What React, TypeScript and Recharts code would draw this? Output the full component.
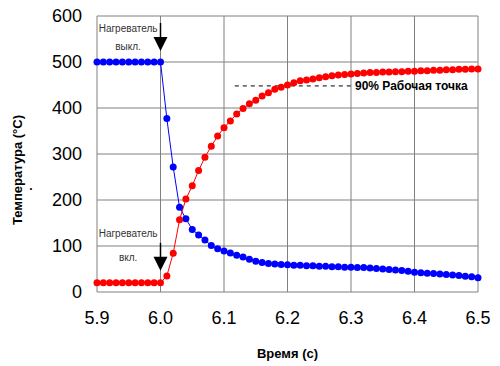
import React from 'react';
import {
  LineChart, Line, XAxis, YAxis, CartesianGrid, ReferenceLine, ReferenceDot, Label,
} from 'recharts';

// time, s (step 0.01)
const times = [
  5.90, 5.91, 5.92, 5.93, 5.94, 5.95, 5.96, 5.97, 5.98, 5.99, 6.00,
  6.01, 6.02, 6.03, 6.04, 6.05, 6.06, 6.07, 6.08, 6.09, 6.10,
  6.11, 6.12, 6.13, 6.14, 6.15, 6.16, 6.17, 6.18, 6.19, 6.20,
  6.21, 6.22, 6.23, 6.24, 6.25, 6.26, 6.27, 6.28, 6.29, 6.30,
  6.31, 6.32, 6.33, 6.34, 6.35, 6.36, 6.37, 6.38, 6.39, 6.40,
  6.41, 6.42, 6.43, 6.44, 6.45, 6.46, 6.47, 6.48, 6.49, 6.50,
];

// heater switched off (blue)
const coolingTemps = [
  500, 500, 500, 500, 500, 500, 500, 500, 500, 500, 500,
  377, 272, 184, 159, 136, 124, 113, 101, 94, 89,
  85, 80, 76, 71, 67, 64, 62, 61, 60, 59,
  58, 58, 57, 57, 56, 56, 55, 55, 54, 54,
  53, 53, 52, 51, 50, 49, 48, 47, 45, 43,
  42, 41, 40, 39, 38, 37, 36, 34, 33, 31,
];

// heater switched on (red)
const heatingTemps = [
  20, 20, 20, 20, 20, 20, 20, 20, 20, 20, 20,
  35, 84, 157, 202, 231, 264, 293, 317, 339, 357,
  372, 387, 399, 409, 417, 426, 433, 441, 445, 450,
  455, 459, 461, 463, 466, 468, 470, 472, 473, 474,
  475, 476, 477, 477, 478, 478, 479, 479, 480, 480,
  481, 481, 482, 482, 483, 483, 484, 484, 485, 485,
];

const xTicks = [5.9, 6.0, 6.1, 6.2, 6.3, 6.4, 6.5];
const yTicks = [0, 100, 200, 300, 400, 500, 600];

const data = times.map((t, i) => ({ t, cool: coolingTemps[i], heat: heatingTemps[i] }));

const FONT = '"Liberation Sans", Arial, sans-serif';

// down arrow: short stem and filled triangle, tip at (cx, cy)
const ArrowDown = (props: any) => {
  const { cx, cy } = props;
  return (
    <g>
      <line x1={cx} y1={cy - 28} x2={cx} y2={cy - 12} stroke="#000" strokeWidth={1.5} />
      <polygon points={`${cx - 7},${cy - 14} ${cx + 7},${cy - 14} ${cx},${cy}`} fill="#000" />
    </g>
  );
};

const noteLabel = (value: string) => ({
  value, position: 'center' as const, fontSize: 10, fill: '#333', fontFamily: FONT,
});

export default function App() {
  return (
    <div style={{ position: 'absolute', left: 0, top: 0, width: 500, height: 366, background: '#fff', fontFamily: FONT }}>
      <LineChart width={500} height={366} data={data} margin={{ top: 16, right: 22, left: 0, bottom: 0 }}>
        <CartesianGrid stroke="#808080" strokeWidth={1} />
        <XAxis
          dataKey="t" type="number" domain={[5.9, 6.5]} ticks={xTicks}
          tickFormatter={(v: number) => v.toFixed(1)}
          tick={{ fontSize: 18, fill: '#000', fontFamily: FONT }}
          tickLine={false} axisLine={false} tickMargin={13} height={74}
        >
          <Label value="Время (с)" position="insideBottom" offset={8}
            style={{ fontSize: 13, fontWeight: 'bold', fill: '#000', fontFamily: FONT }} />
        </XAxis>
        <YAxis
          type="number" domain={[0, 600]} ticks={yTicks}
          tick={{ fontSize: 18, fill: '#000', fontFamily: FONT }}
          tickLine={false} axisLine={false} tickMargin={9} width={97}
        >
          <Label
            content={() => (
              <g>
                <text x={19} y={170} transform="rotate(-90 19 170)" textAnchor="middle" dominantBaseline="middle"
                  style={{ fontSize: 13, fontWeight: 'bold', fill: '#000', fontFamily: FONT }}>
                  Температура (°C)
                </text>
                <text x={31} y={190} textAnchor="middle" style={{ fontSize: 12, fontWeight: 'bold', fill: '#000', fontFamily: FONT }}>.</text>
              </g>
            )}
          />
        </YAxis>

        <ReferenceLine
          segment={[{ x: 6.117, y: 448 }, { x: 6.3, y: 448 }]}
          stroke="#000" strokeDasharray="4 4" strokeWidth={1}
        />
        <ReferenceDot x={6.3} y={448} r={0} fill="none" stroke="none"
          label={{ value: '90% Рабочая точка', position: 'right', offset: 4, fontSize: 12, fontWeight: 'bold', fill: '#000', fontFamily: FONT }} />

        <Line type="linear" dataKey="cool" stroke="#0000ff" strokeWidth={1}
          dot={{ r: 3.5, fill: '#0000ff', stroke: '#0000ff', strokeWidth: 0 }} isAnimationActive={false} />
        <Line type="linear" dataKey="heat" stroke="#ff0000" strokeWidth={1}
          dot={{ r: 3.5, fill: '#ff0000', stroke: '#ff0000', strokeWidth: 0 }} isAnimationActive={false} />

        <ReferenceDot x={6.0} y={524} r={0} shape={ArrowDown} />
        <ReferenceDot x={6.0} y={46} r={0} shape={ArrowDown} />

        <ReferenceDot x={5.949} y={574} r={0} fill="none" stroke="none" label={noteLabel('Нагреватель')} />
        <ReferenceDot x={5.949} y={533} r={0} fill="none" stroke="none" label={noteLabel('выкл.')} />
        <ReferenceDot x={5.949} y={128} r={0} fill="none" stroke="none" label={noteLabel('Нагреватель')} />
        <ReferenceDot x={5.949} y={76} r={0} fill="none" stroke="none" label={noteLabel('вкл.')} />
      </LineChart>
    </div>
  );
}
